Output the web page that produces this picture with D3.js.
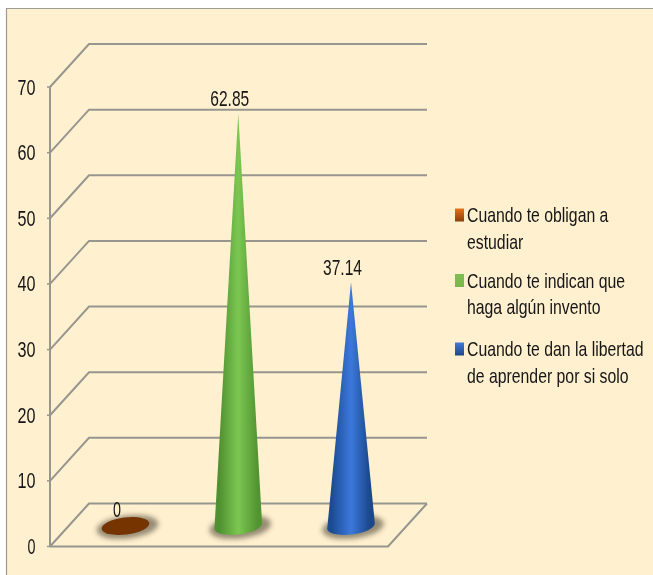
<!DOCTYPE html>
<html><head><meta charset="utf-8">
<script src="https://cdn.jsdelivr.net/npm/d3@7/dist/d3.min.js"></script>
<style>html,body{margin:0;padding:0;background:#fff}svg{display:block}text{font-family:"Liberation Sans",Arial,sans-serif;fill:#151515}</style>
</head><body><svg id="c" width="653" height="575"></svg>
<script>
const categories=["Cuando te obligan a estudiar","Cuando te indican que haga algún invento","Cuando te dan la libertad de aprender por si solo"];
const values=[0,62.85,37.14];
const valueLabels=["0","62.85","37.14"];
const ticks=[0,10,20,30,40,50,60,70];
const legendLines=[["Cuando te obligan a","estudiar"],["Cuando te indican que","haga algún invento"],["Cuando te dan la libertad","de aprender por si solo"]];
const brown="#763405";
const svg=d3.select("#c");
const defs=svg.append("defs");
const y=d3.scaleLinear().domain([0,70]).range([546.5,87]);
const x=d3.scalePoint().domain(categories).range([125.5,351]);
const dx=39,dy=-43,W=338,depth=-20.5;
const f=defs.append("filter").attr("id","blur").attr("x","-30%").attr("y","-60%").attr("width","160%").attr("height","220%");
f.append("feGaussianBlur").attr("stdDeviation",2.4);
const soft=defs.append("filter").attr("id","soft").attr("x","-5%").attr("y","-5%").attr("width","110%").attr("height","110%");
soft.append("feGaussianBlur").attr("stdDeviation",0.35);
const grads=[["g1",["#4f9030","#7cc752","#529432"]],["g2",["#1d4c94","#3b78dc","#1b4789"]]];
grads.forEach(([id,c])=>{const g=defs.append("linearGradient").attr("id",id);
 [[0,c[0]],[.1,c[0]],[.5,c[1]],[.9,c[2]],[1,c[2]]].forEach(s=>g.append("stop").attr("offset",s[0]).attr("stop-color",s[1]));});
svg.append("rect").attr("x",6).attr("y",8).attr("width",647).attr("height",567).attr("fill","#fff0cf");
svg.append("path").attr("fill","none").attr("stroke","#9a9a96").attr("stroke-width",1.2).attr("d","M6.5,575V8.5H653");
const G="#96968f";
const line=d3.line();
const root=svg.append("g").attr("filter","url(#soft)");
ticks.forEach(t=>{const p=y(t);
 root.append("path").attr("fill","none").attr("stroke",G).attr("stroke-width",2).attr("d",line([[50,p],[50+dx,p+dy],[50+dx+W,p+dy]]));
 root.append("line").attr("x1",47).attr("x2",50).attr("y1",p).attr("y2",p).attr("stroke",G).attr("stroke-width",1.5);
 root.append("text").attr("x",35.5).attr("y",p+7.5).attr("text-anchor","end").attr("font-size",22).attr("textLength",t?18:8).attr("lengthAdjust","spacingAndGlyphs").text(t);
});
root.append("line").attr("x1",50).attr("x2",50).attr("y1",y(70)).attr("y2",y(0)).attr("stroke",G).attr("stroke-width",2);
root.append("path").attr("fill","none").attr("stroke",G).attr("stroke-width",2).attr("d",line([[50,y(0)],[50+W,y(0)],[50+W+dx,y(0)+dy]]));
values.forEach((v,i)=>{
 const cx=x(categories[i]),by=y(0)+depth,rx=24,ry=8.5,rot=-7;
 const a=rot*Math.PI/180,ex=rx*Math.cos(a),ey=rx*Math.sin(a);
 root.append("ellipse").attr("cx",cx+2).attr("cy",by+1).attr("rx",rx+7).attr("ry",ry+3).attr("transform",`rotate(${rot} ${cx+2} ${by+1})`).attr("fill","#5f5644").attr("opacity",.65).attr("filter","url(#blur)");
 if(v===0){
  root.append("ellipse").attr("cx",cx).attr("cy",by).attr("rx",rx).attr("ry",ry).attr("transform",`rotate(${rot} ${cx} ${by})`).attr("fill",brown);
 } else {
  const tip=y(v)+depth;
  root.append("path").attr("fill",`url(#g${i})`).attr("d",`M${cx},${tip}L${cx+ex},${by+ey}A${rx},${ry} ${rot} 0 1 ${cx-ex},${by-ey}Z`);
 }
 const lbl=valueLabels[i];
 root.append("text").attr("x",cx-8.5).attr("y",y(v)+depth-(v===0?9:7)).attr("text-anchor","middle").attr("font-size",22).attr("textLength",lbl.length>1?39:8).attr("lengthAdjust","spacingAndGlyphs").text(lbl);
});
const legY=[215,280.5,349],mc=[["#e8701a","#8a3f0a"],["#80bd52","#7ab64c"],["#3f7ad6","#1d4688"]];
legendLines.forEach((ls,i)=>{
 const g=defs.append("linearGradient").attr("id","m"+i).attr("x1",0).attr("x2",0).attr("y1",0).attr("y2",1);
 g.append("stop").attr("offset",0).attr("stop-color",mc[i][0]);g.append("stop").attr("offset",1).attr("stop-color",mc[i][1]);
 root.append("rect").attr("x",455).attr("y",legY[i]-6.5).attr("width",9).attr("height",13).attr("fill",`url(#m${i})`);
 ls.forEach((l,k)=>root.append("text").attr("font-size",20).attr("transform",`translate(467 ${legY[i]+7+k*26.5}) scale(.79 1)`).text(l));
});
</script></body></html>
